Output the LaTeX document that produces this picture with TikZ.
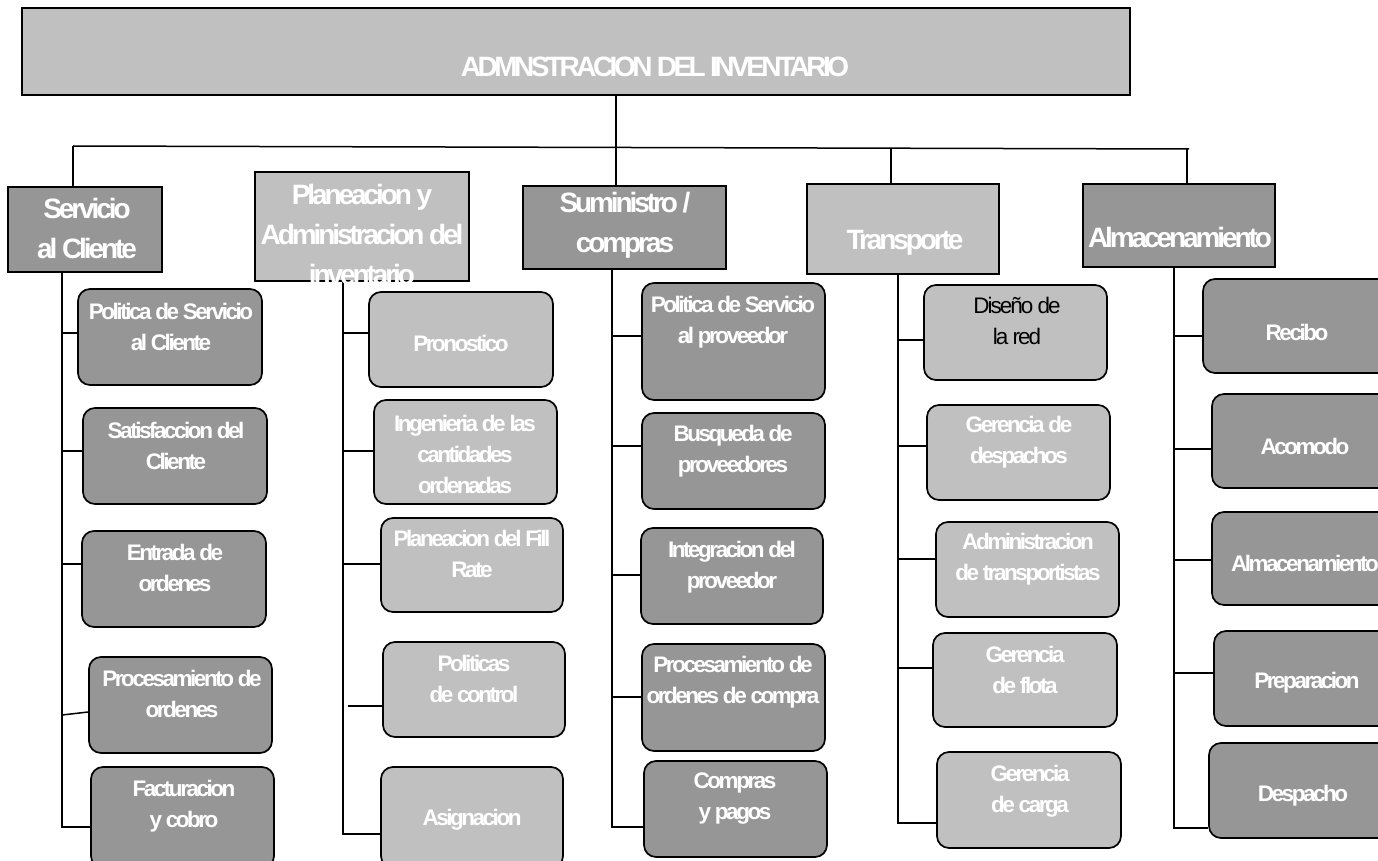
\documentclass[tikz,border=0pt]{standalone}
\usepackage{fontspec}
\setmainfont{Liberation Sans}
\newfontfamily\narrowfont{Liberation Sans}[LetterSpace=-11]
\newfontfamily\catfont{Liberation Sans}[LetterSpace=-11]
\newfontfamily\titlefont{Liberation Sans}[LetterSpace=-12.5]
\newfontfamily\plainnarrow{Liberation Sans}[LetterSpace=-9]
\usetikzlibrary{fit}
\definecolor{lightg}{HTML}{C0C0C0}
\definecolor{darkg}{HTML}{969696}
\tikzset{
  boxline/.style={draw=black, line width=1.7pt, inner sep=0pt},
  catbox/.style={boxline},
  leafbox/.style={boxline, rounded corners=12pt},
  light/.style={fill=lightg},
  dark/.style={fill=darkg},
  titlelbl/.style={text=white, inner sep=0pt, font=\titlefont\bfseries\fontsize{28}{34}\selectfont},
  catlbl/.style={text=white, align=center, inner sep=0pt, font=\catfont\bfseries\fontsize{28}{40}\selectfont},
  leaflbl/.style={text=white, align=center, inner sep=0pt, font=\narrowfont\bfseries\fontsize{22.5}{31}\selectfont},
  darklbl/.style={leaflbl, text=black, font=\plainnarrow\fontsize{22.5}{31}\selectfont},
  conn/.style={line width=1.5pt},
}
\begin{document}
\begin{tikzpicture}[x=1pt,y=-1pt]
\useasboundingbox (0,0) rectangle (1378,861);
\clip (0,0) rectangle (1378,861);
\fill[white] (0,0) rectangle (1378,861);

% title
\node[catbox, light, fit={(22,8) (1130,95)}] (title) {};
\node[titlelbl] (titletext) at (655,67) {ADMNSTRACION DEL INVENTARIO};

% categories
\node[catbox, dark,  fit={(8,187) (162,272)}]    (serv) {};
\node[catbox, light, fit={(255,172) (469,281)}]  (plan) {};
\node[catbox, dark,  fit={(523,186) (726,269)}]  (sum) {};
\node[catbox, light, fit={(807,184) (999,274)}]  (trans) {};
\node[catbox, dark,  fit={(1083,184) (1275,267)}] (alm) {};

% leaves: Servicio
\node[leafbox, dark, fit={(78,289) (262,385)}] (s1) {};
\node[leafbox, dark, fit={(83,408) (267,504)}] (s2) {};
\node[leafbox, dark, fit={(82,531) (266,627)}] (s3) {};
\node[leafbox, dark, fit={(89,657) (272,753)}] (s4) {};
\node[leafbox, dark, fit={(91,767) (274,868)}] (s5) {};
% leaves: Planeacion
\node[leafbox, light, fit={(369,292) (553,387)}] (p1) {};
\node[leafbox, light, fit={(374,400) (557,504)}] (p2) {};
\node[leafbox, light, fit={(381,518) (563,612)}] (p3) {};
\node[leafbox, light, fit={(383,642) (565,737)}] (p4) {};
\node[leafbox, light, fit={(381,767) (563,868)}] (p5) {};
% leaves: Suministro
\node[leafbox, dark, fit={(642,283) (825,400)}] (m1) {};
\node[leafbox, dark, fit={(642,413) (825,509)}] (m2) {};
\node[leafbox, dark, fit={(641,528) (823,624)}] (m3) {};
\node[leafbox, dark, fit={(642,644) (825,751)}] (m4) {};
\node[leafbox, dark, fit={(644,761) (827,857)}] (m5) {};
% leaves: Transporte
\node[leafbox, light, fit={(924,285) (1107,380)}] (t1) {};
\node[leafbox, light, fit={(927,405) (1110,500)}] (t2) {};
\node[leafbox, light, fit={(936,522) (1119,617)}] (t3) {};
\node[leafbox, light, fit={(933,633) (1117,727)}] (t4) {};
\node[leafbox, light, fit={(937,752) (1121,848)}] (t5) {};
% leaves: Almacenamiento
\node[leafbox, dark, fit={(1203,279) (1395,373)}] (a1) {};
\node[leafbox, dark, fit={(1212,394) (1395,488)}] (a2) {};
\node[leafbox, dark, fit={(1212,512) (1395,605)}] (a3) {};
\node[leafbox, dark, fit={(1214,631) (1395,726)}] (a4) {};
\node[leafbox, dark, fit={(1209,743) (1395,838)}] (a5) {};

% connectors
\coordinate (busL) at (73,146);
\coordinate (busR) at (1189,149);
\coordinate (d3) at (616,0);
\coordinate (b4) at (891,148);
\coordinate (b5) at (1187,149);
\draw[conn] (busL) -- (busR);
\draw[conn] (title.south -| d3) -- (sum.north -| d3);
\draw[conn] (busL) -- (serv.north -| busL);
\draw[conn] (b4) -- (trans.north -| b4);
\draw[conn] (b5) -- (alm.north -| b5);

\coordinate (e1) at (62,827);
\coordinate (e2) at (343,834);
\coordinate (e3) at (612,827);
\coordinate (e4) at (898,823);
\coordinate (e5) at (1174,828);
\draw[conn] (serv.south -| e1) -- (e1) -- (s5.west |- e1);
\draw[conn] (plan.south -| e2) -- (e2) -- (p5.west |- e2);
\draw[conn] (sum.south -| e3) -- (e3) -- (m5.west |- e3);
\draw[conn] (trans.south -| e4) -- (e4) -- (t5.west |- e4);
\draw[conn] (alm.south -| e5) -- (e5) -- (a5.west |- e5);

\draw[conn] (e1 |- 0,333) -- (s1.west |- 0,333);
\draw[conn] (e1 |- 0,451) -- (s2.west |- 0,451);
\draw[conn] (e1 |- 0,564) -- (s3.west |- 0,564);
\draw[conn] (e1 |- 0,715) -- (s4.west |- 0,712);

\draw[conn] (e2 |- 0,333) -- (p1.west |- 0,333);
\draw[conn] (e2 |- 0,451) -- (p2.west |- 0,451);
\draw[conn] (e2 |- 0,564) -- (p3.west |- 0,564);
\draw[conn] (348,706) -- (p4.west |- 0,706);

\draw[conn] (e3 |- 0,336) -- (m1.west |- 0,336);
\draw[conn] (e3 |- 0,446) -- (m2.west |- 0,446);
\draw[conn] (e3 |- 0,575) -- (m3.west |- 0,575);
\draw[conn] (e3 |- 0,697) -- (m4.west |- 0,697);

\draw[conn] (e4 |- 0,340) -- (t1.west |- 0,340);
\draw[conn] (e4 |- 0,446) -- (t2.west |- 0,446);
\draw[conn] (e4 |- 0,559) -- (t3.west |- 0,559);
\draw[conn] (e4 |- 0,668) -- (t4.west |- 0,668);

\draw[conn] (e5 |- 0,336) -- (a1.west |- 0,336);
\draw[conn] (e5 |- 0,449) -- (a2.west |- 0,449);
\draw[conn] (e5 |- 0,560) -- (a3.west |- 0,560);
\draw[conn] (e5 |- 0,673) -- (a4.west |- 0,673);

% category labels
\node[catlbl] (servtext)  at (87,228)   {Servicio\\al Cliente};
\node[catlbl] (plantext)  at (362,234)  {Planeacion y\\Administracion del\\inventario};
\node[catlbl] (sumtext)   at (625,225)  {Suministro /\\compras};
\node[catlbl] (transtext) at (905,243)  {Transporte};
\node[catlbl] (almtext)   at (1180,237) {Almacenamiento};

% leaf labels
\node[leaflbl] (s1t) at (171,327) {Politica de Servicio\\al Cliente};
\node[leaflbl] (s2t) at (176,446) {Satisfaccion del\\Cliente};
\node[leaflbl] (s3t) at (175,568) {Entrada de\\ordenes};
\node[leaflbl] (s4t) at (182,694) {Procesamiento de\\ordenes};
\node[leaflbl] (s5t) at (184,806) {Facturacion\\y cobro};

\node[leaflbl] (p1t) at (461,343) {Pronostico};
\node[leaflbl] (p2t) at (465,454) {Ingenieria de las\\cantidades\\ordenadas};
\node[leaflbl] (p3t) at (472,554) {Planeacion del Fill\\Rate};
\node[leaflbl] (p4t) at (474,679) {Politicas\\de control};
\node[leaflbl] (p5t) at (472,820) {Asignacion};

\node[leaflbl] (m1t) at (733,322) {Politica de Servicio\\al proveedor};
\node[leaflbl] (m2t) at (733,451) {Busqueda de\\proveedores};
\node[leaflbl] (m3t) at (732,567) {Integracion del\\proveedor};
\node[leaflbl] (m4t) at (733,682) {Procesamiento de\\ordenes de compra};
\node[leaflbl] (m5t) at (735,799) {Compras\\y pagos};

\node[darklbl] (t1t) at (1017,321) {Diseño de\\la red};
\node[leaflbl] (t2t) at (1019,442) {Gerencia de\\despachos};
\node[leaflbl] (t3t) at (1028,559) {Administracion\\de transportistas};
\node[leaflbl] (t4t) at (1025,670) {Gerencia\\de flota};
\node[leaflbl] (t5t) at (1030,791) {Gerencia\\de carga};

\node[leaflbl] (a1t) at (1297,332) {Recibo};
\node[leaflbl] (a2t) at (1305,446) {Acomodo};
\node[leaflbl] (a3t) at (1305,563) {Almacenamiento};
\node[leaflbl] (a4t) at (1307,683) {Preparacion};
\node[leaflbl] (a5t) at (1303,796) {Despacho};
\end{tikzpicture}
\end{document}
